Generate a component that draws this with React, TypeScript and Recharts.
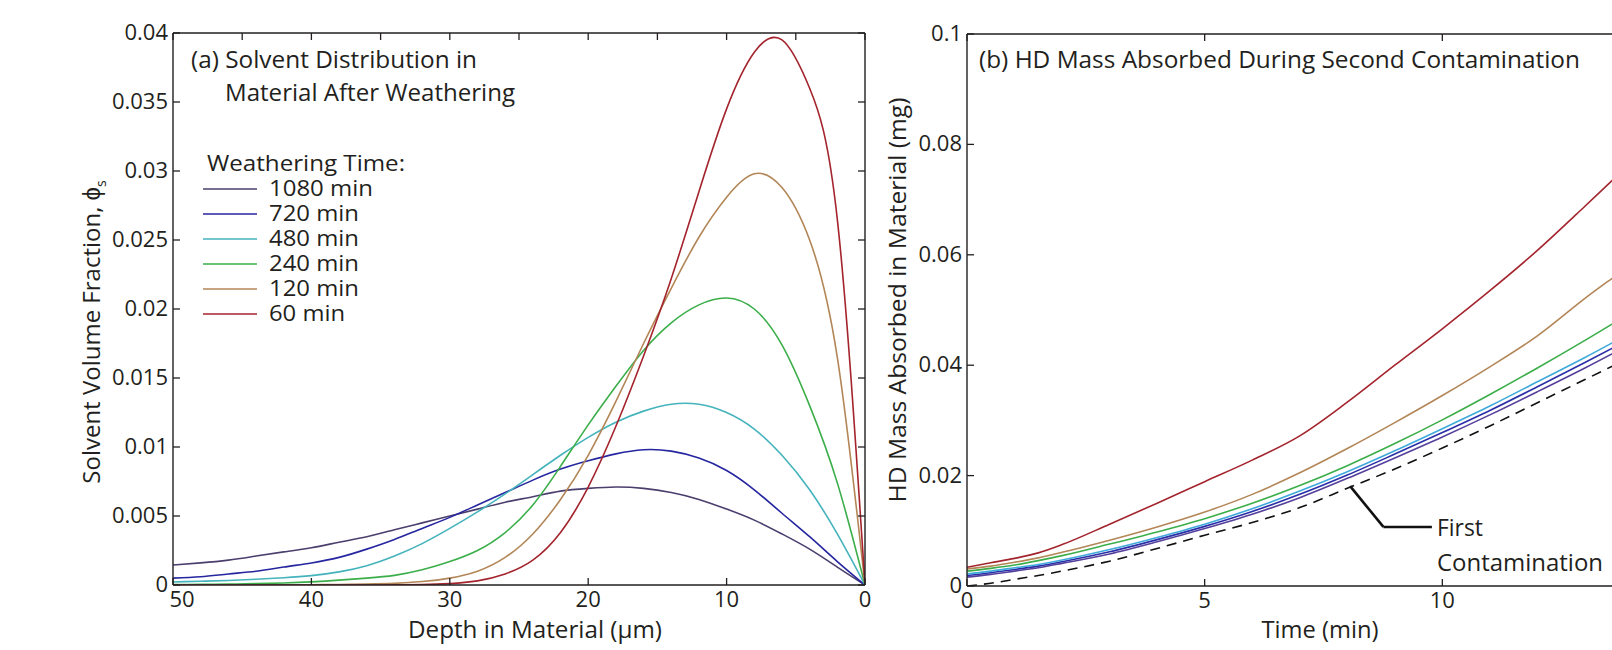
import React from 'react';
import { LineChart, Line, XAxis, YAxis, ReferenceLine } from 'recharts';

// (a) solvent volume fraction vs depth (µm), read every 2 µm, one list per weathering time
const depthUm = [50, 48, 46, 44, 42, 40, 38, 36, 34, 32, 30, 28, 26, 24, 22, 20, 18, 16, 14, 12, 10, 8, 6, 4, 2, 0];
const phi1080 = [0.00145, 0.0016, 0.0018, 0.0021, 0.0024, 0.0027, 0.0031, 0.0035, 0.004, 0.0045, 0.005, 0.0055, 0.006, 0.0064, 0.0068, 0.007, 0.0071, 0.007, 0.0067, 0.0062, 0.0055, 0.0047, 0.0037, 0.0026, 0.0013, 0];
const phi720 = [0.0005, 0.0006, 0.0008, 0.001, 0.0013, 0.0016, 0.002, 0.0026, 0.0033, 0.0041, 0.0049, 0.0058, 0.0067, 0.0076, 0.0084, 0.009, 0.0095, 0.0098, 0.0097, 0.0092, 0.0083, 0.0069, 0.0052, 0.0035, 0.0017, 0];
const phi480 = [0.00022, 0.00027, 0.00033, 0.00042, 0.00053, 0.00068, 0.00095, 0.0014, 0.0021, 0.003, 0.0041, 0.0053, 0.0066, 0.008, 0.0094, 0.0107, 0.0118, 0.0126, 0.0131, 0.0131, 0.0125, 0.0113, 0.0094, 0.0069, 0.0037, 0];
const phi240 = [0.00003, 0.00005, 0.00007, 0.0001, 0.00015, 0.00023, 0.00035, 0.0005, 0.0007, 0.0011, 0.0017, 0.0025, 0.0038, 0.0058, 0.0086, 0.0116, 0.0144, 0.017, 0.019, 0.0203, 0.0208, 0.02, 0.0174, 0.013, 0.0074, 0];
const phi120 = [0, 0, 0, 0.00001, 0.00001, 0.00002, 0.00004, 0.00007, 0.00012, 0.00025, 0.0005, 0.001, 0.002, 0.0037, 0.0062, 0.0094, 0.0133, 0.0175, 0.0215, 0.0252, 0.0281, 0.0298, 0.0288, 0.025, 0.0165, 0];
const phi60 = [0, 0, 0, 0, 0, 0, 0, 0, 0.00001, 0.00003, 0.0001, 0.0003, 0.0008, 0.0018, 0.0038, 0.0071, 0.0115, 0.0166, 0.0222, 0.0285, 0.0345, 0.0386, 0.0395, 0.036, 0.0265, 0];

// (b) HD mass absorbed (mg) vs time (min)
const timeMin = [0, 0.5, 1, 1.5, 2, 3, 4, 5, 6, 7, 8, 9, 10, 11, 12, 13, 14, 15];
const mass1080 = [0.0016, 0.0021, 0.0027, 0.0033, 0.0041, 0.0058, 0.008, 0.0104, 0.013, 0.016, 0.0195, 0.0232, 0.027, 0.031, 0.0352, 0.0395, 0.044, 0.0485];
const mass720 = [0.0019, 0.0024, 0.003, 0.0036, 0.0044, 0.0062, 0.0084, 0.0108, 0.0135, 0.0166, 0.0201, 0.0239, 0.0278, 0.0318, 0.0361, 0.0405, 0.045, 0.0495];
const mass480 = [0.0022, 0.0027, 0.0033, 0.0039, 0.0047, 0.0066, 0.0088, 0.0112, 0.014, 0.0172, 0.0207, 0.0245, 0.0285, 0.0326, 0.037, 0.0414, 0.046, 0.0505];
const mass240 = [0.0027, 0.0032, 0.0038, 0.0046, 0.0055, 0.0076, 0.0098, 0.0122, 0.015, 0.0182, 0.0218, 0.0258, 0.0301, 0.0347, 0.0395, 0.0445, 0.0497, 0.055];
const mass120 = [0.0031, 0.0036, 0.0043, 0.0051, 0.0061, 0.0083, 0.0107, 0.0134, 0.0166, 0.0205, 0.0249, 0.0296, 0.0345, 0.0397, 0.0453, 0.0521, 0.0585, 0.0655];
const mass60 = [0.0034, 0.0042, 0.005, 0.006, 0.0075, 0.0112, 0.015, 0.0189, 0.0228, 0.0272, 0.0333, 0.0400, 0.0466, 0.0535, 0.0608, 0.0688, 0.077, 0.0855];
const massFirst = [0, 0.0005, 0.0012, 0.0019, 0.0027, 0.0045, 0.0068, 0.0092, 0.0115, 0.0142, 0.0177, 0.0212, 0.025, 0.029, 0.0332, 0.0374, 0.0416, 0.0458];

const depthTicks = [50, 40, 30, 20, 10, 0];
const depthTopTicks = [50, 45, 40, 35, 30, 25, 20, 15, 10, 5, 0];
const phiTicks = [0, 0.005, 0.01, 0.015, 0.02, 0.025, 0.03, 0.035, 0.04];
const timeTicks = [0, 5, 10, 15];
const massTicks = [0, 0.02, 0.04, 0.06, 0.08, 0.1];
const legendLabels = ['1080 min', '720 min', '480 min', '240 min', '120 min', '60 min'];
// leader from the dashed curve to the "First Contamination" note, in data units
const leader = [{ x: 8.06, y: 0.0181 }, { x: 8.76, y: 0.0107 }, { x: 9.78, y: 0.0107 }];

const FONT = '"Open Sans", sans-serif';
const INK = '#231f20';
const TK = 7;

const colorsA = ['#4b3f6e', '#2626a0', '#45b3bc', '#3bae4a', '#b38657', '#a4242d'];
const colorsB = ['#56409c', '#2a2fa8', '#3ea9da', '#3bae4a', '#b38657', '#a4242d'];

const dataA = depthUm.map((d, i) => ({
  depth: d, p1080: phi1080[i], p720: phi720[i], p480: phi480[i], p240: phi240[i], p120: phi120[i], p60: phi60[i],
}));
const dataB = timeMin.map((t, i) => ({
  t, m1080: mass1080[i], m720: mass720[i], m480: mass480[i], m240: mass240[i], m120: mass120[i], m60: mass60[i], first: massFirst[i],
}));

const bottomTick = (p: any) => {
  const v = p.payload.value;
  const dx = v === 50 ? 9 : 0;
  return (
    <g>
      <line x1={p.x} x2={p.x} y1={p.y} y2={p.y - TK} stroke={INK} strokeWidth={1.3} />
      <text x={p.x + dx} y={p.y + 22} textAnchor="middle" fontSize={22} fontFamily={FONT} fill={INK}>{v}</text>
    </g>
  );
};
const leftTick = (p: any) => {
  const v = p.payload.value;
  return (
    <g>
      <line x1={p.x} x2={p.x + TK} y1={p.y} y2={p.y} stroke={INK} strokeWidth={1.3} />
      <text x={p.x - 5} y={p.y + 7} textAnchor="end" fontSize={22} fontFamily={FONT} fill={INK}>{v}</text>
    </g>
  );
};
const topTick = (p: any) => (
  <line x1={p.x} x2={p.x} y1={p.y} y2={p.y + TK} stroke={INK} strokeWidth={1.3} />
);
const rightTick = (p: any) => (
  <line x1={p.x} x2={p.x - TK} y1={p.y} y2={p.y} stroke={INK} strokeWidth={1.3} />
);

const axisLine = { stroke: INK, strokeWidth: 1.4 };

function PanelA() {
  const keys = ['p1080', 'p720', 'p480', 'p240', 'p120', 'p60'];
  return (
    <LineChart width={900} height={650} data={dataA} margin={{ top: 32, right: 34, bottom: 0, left: 0 }}>
      <XAxis xAxisId="b" dataKey="depth" type="number" domain={[0, 50]} reversed allowDataOverflow ticks={depthTicks}
        interval={0} height={65} tickSize={0} tickMargin={0} tickLine={false} axisLine={axisLine} tick={bottomTick} />
      <XAxis xAxisId="t" orientation="top" dataKey="depth" type="number" domain={[0, 50]} reversed allowDataOverflow
        ticks={depthTopTicks} interval={0} height={1} tickSize={0} tickMargin={0} tickLine={false} axisLine={axisLine} tick={topTick} />
      <YAxis yAxisId="l" type="number" domain={[0, 0.04]} allowDataOverflow ticks={phiTicks} interval={0} width={173}
        tickSize={0} tickMargin={0} tickLine={false} axisLine={axisLine} tick={leftTick} />
      <YAxis yAxisId="r" orientation="right" type="number" domain={[0, 0.04]} allowDataOverflow ticks={phiTicks} interval={0}
        width={1} tickSize={0} tickMargin={0} tickLine={false} axisLine={axisLine} tick={rightTick} />
      {keys.map((k, i) => (
        <Line key={k} xAxisId="b" yAxisId="l" dataKey={k} type="natural" stroke={colorsA[i]} strokeWidth={1.6}
          dot={false} activeDot={false} isAnimationActive={false} />
      ))}
    </LineChart>
  );
}

function PanelB() {
  const keys = ['m1080', 'm720', 'm480', 'm240', 'm120', 'm60'];
  return (
    <LineChart width={830} height={650} data={dataB} margin={{ top: 33, right: 19, bottom: 0, left: 0 }}>
      <XAxis xAxisId="b" dataKey="t" type="number" domain={[0, 15]} allowDataOverflow ticks={timeTicks}
        interval={0} height={64} tickSize={0} tickMargin={0} tickLine={false} axisLine={axisLine} tick={bottomTick} />
      <XAxis xAxisId="t" orientation="top" dataKey="t" type="number" domain={[0, 15]} allowDataOverflow
        ticks={timeTicks} interval={0} height={1} tickSize={0} tickMargin={0} tickLine={false} axisLine={axisLine} tick={topTick} />
      <YAxis yAxisId="l" type="number" domain={[0, 0.1]} allowDataOverflow ticks={massTicks} interval={0} width={97}
        tickSize={0} tickMargin={0} tickLine={false} axisLine={axisLine} tick={leftTick} />
      <YAxis yAxisId="r" orientation="right" type="number" domain={[0, 0.1]} allowDataOverflow ticks={massTicks} interval={0}
        width={1} tickSize={0} tickMargin={0} tickLine={false} axisLine={axisLine} tick={rightTick} />
      <Line xAxisId="b" yAxisId="l" dataKey="first" type="monotone" stroke="#111" strokeWidth={1.6}
        strokeDasharray="10 7" dot={false} activeDot={false} isAnimationActive={false} />
      {keys.map((k, i) => (
        <Line key={k} xAxisId="b" yAxisId="l" dataKey={k} type="monotone" stroke={colorsB[i]} strokeWidth={1.6}
          dot={false} activeDot={false} isAnimationActive={false} />
      ))}
      <ReferenceLine xAxisId="b" yAxisId="l" segment={[leader[0], leader[1]]} stroke="#111" strokeWidth={2.6} ifOverflow="visible" />
      <ReferenceLine xAxisId="b" yAxisId="l" segment={[leader[1], leader[2]]} stroke="#111" strokeWidth={2.6} ifOverflow="visible" />
    </LineChart>
  );
}

const legendWidths = [104, 90, 90, 90, 90, 76];

function Overlay() {
  const txt = { fontFamily: FONT, fill: INK } as const;
  return (
    <svg width={1612} height={650} style={{ position: 'absolute', left: 0, top: 0, pointerEvents: 'none' }}>
      <text x={191} y={68} fontSize={24} textLength={286} lengthAdjust="spacingAndGlyphs" {...txt}>(a) Solvent Distribution in</text>
      <text x={225} y={101} fontSize={24} textLength={290} lengthAdjust="spacingAndGlyphs" {...txt}>Material After Weathering</text>
      <text x={207} y={171} fontSize={22} textLength={198} lengthAdjust="spacingAndGlyphs" {...txt}>Weathering Time:</text>
      {legendLabels.map((l, i) => (
        <g key={l}>
          <line x1={203} x2={257} y1={189 + i * 25} y2={189 + i * 25} stroke={colorsA[i]} strokeWidth={1.6} />
          <text x={269} y={196 + i * 25} fontSize={22} textLength={legendWidths[i]} lengthAdjust="spacingAndGlyphs" {...txt}>{l}</text>
        </g>
      ))}
      <g transform="translate(100,332) rotate(-90)">
        <text x={0} y={0} textAnchor="middle" fontSize={24} {...txt}>
          Solvent Volume Fraction, ϕ<tspan fontSize={14} dy={6}>s</tspan>
        </text>
      </g>
      <text x={535} y={638} textAnchor="middle" fontSize={24} textLength={254} lengthAdjust="spacingAndGlyphs" {...txt}>Depth in Material (μm)</text>

      <text x={979} y={68} fontSize={24} textLength={601} lengthAdjust="spacingAndGlyphs" {...txt}>(b) HD Mass Absorbed During Second Contamination</text>
      <g transform="translate(906,300) rotate(-90)">
        <text x={0} y={0} textAnchor="middle" fontSize={24} textLength={405} lengthAdjust="spacingAndGlyphs" {...txt}>HD Mass Absorbed in Material (mg)</text>
      </g>
      <text x={1320} y={638} textAnchor="middle" fontSize={24} textLength={117} lengthAdjust="spacingAndGlyphs" {...txt}>Time (min)</text>
      <text x={1437} y={536} fontSize={24} textLength={46} lengthAdjust="spacingAndGlyphs" {...txt}>First</text>
      <text x={1437} y={571} fontSize={24} textLength={166} lengthAdjust="spacingAndGlyphs" {...txt}>Contamination</text>
    </svg>
  );
}

export default function App() {
  return (
    <div style={{ position: 'fixed', left: 0, top: 0, width: 1612, height: 650, overflow: 'hidden', background: '#fff' }}>
      <div style={{ position: 'absolute', left: 0, top: 0 }}>
        <PanelA />
      </div>
      <div style={{ position: 'absolute', left: 870, top: 0 }}>
        <PanelB />
      </div>
      <Overlay />
    </div>
  );
}
